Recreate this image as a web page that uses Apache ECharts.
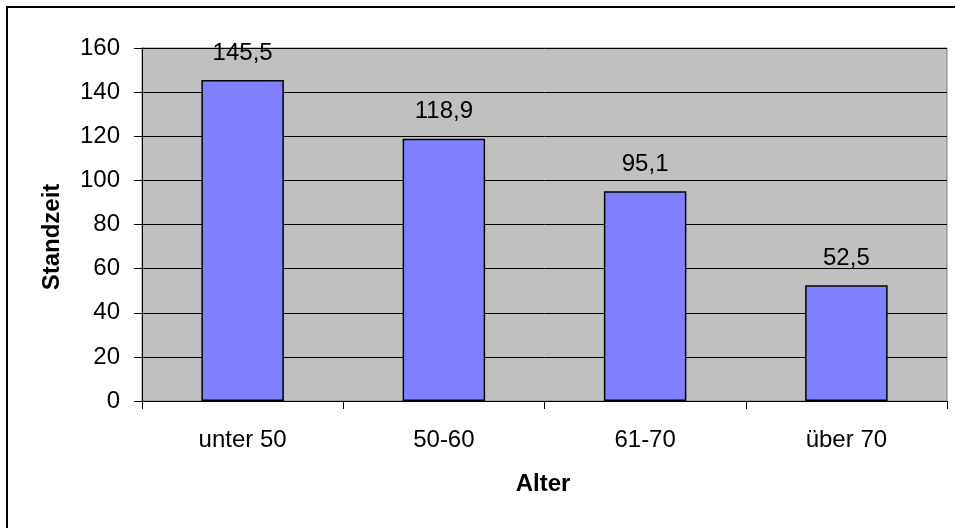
<!DOCTYPE html>
<html>
<head>
<meta charset="utf-8">
<script src="https://cdn.jsdelivr.net/npm/echarts@6/dist/echarts.min.js"></script>
<style>
  html, body { margin: 0; padding: 0; background: #fff; }
  #chart { width: 955px; height: 528px; }
</style>
</head>
<body>
<div id="chart"></div>
<script>
// Standzeit nach Altersgruppe
const categories = ['unter 50', '50-60', '61-70', 'über 70'];
const standzeit = [145.5, 118.9, 95.1, 52.5];
const yMin = 0;
const yMax = 160;
const yStep = 20;

const FONT = '"Liberation Sans", Arial, sans-serif';

const chart = echarts.init(document.getElementById('chart'), null, { renderer: 'canvas' });

chart.setOption({
  backgroundColor: '#ffffff',
  animation: false,
  grid: {
    left: 142, top: 48, right: 8, bottom: 127,
    show: true,
    backgroundColor: '#C0C0C0',
    borderColor: '#808080',
    borderWidth: 1
  },
  xAxis: {
    type: 'category',
    data: categories,
    boundaryGap: true,
    axisLine: { show: true, lineStyle: { color: '#000', width: 1 } },
    axisTick: { show: true, alignWithLabel: false, length: 8, lineStyle: { color: '#000' } },
    axisLabel: { color: '#000', fontFamily: FONT, fontSize: 24, margin: 27 },
    splitLine: { show: false }
  },
  yAxis: {
    type: 'value',
    min: yMin, max: yMax, interval: yStep,
    axisLine: { show: true, lineStyle: { color: '#000', width: 1 } },
    axisTick: { show: true, length: 8, lineStyle: { color: '#000' } },
    axisLabel: { color: '#000', fontFamily: FONT, fontSize: 24, margin: 22 },
    splitLine: { show: true, lineStyle: { color: '#000', width: 1 } }
  },
  series: [{
    type: 'bar',
    data: standzeit,
    barWidth: '41%',
    itemStyle: { color: '#8080FF', borderColor: '#000', borderWidth: 1.5 },
    label: {
      show: true,
      position: 'top',
      distance: 15,
      color: '#000',
      fontFamily: FONT,
      fontSize: 24,
      formatter: p => String(p.value).replace('.', ',')
    }
  }],
  graphic: [
    {
      type: 'rect',
      shape: { x: 7, y: 7, width: 960, height: 540 },
      style: { fill: null, stroke: '#000', lineWidth: 2 },
      silent: true
    },
    {
      type: 'text',
      x: 543, y: 484,
      style: {
        text: 'Alter', fill: '#000', font: 'bold 24px ' + FONT,
        textAlign: 'center', textVerticalAlign: 'middle'
      }
    },
    {
      type: 'text',
      x: 52, y: 237,
      rotation: Math.PI / 2,
      style: {
        text: 'Standzeit', fill: '#000', font: 'bold 24px ' + FONT,
        textAlign: 'center', textVerticalAlign: 'middle'
      }
    }
  ]
});
</script>
</body>
</html>
